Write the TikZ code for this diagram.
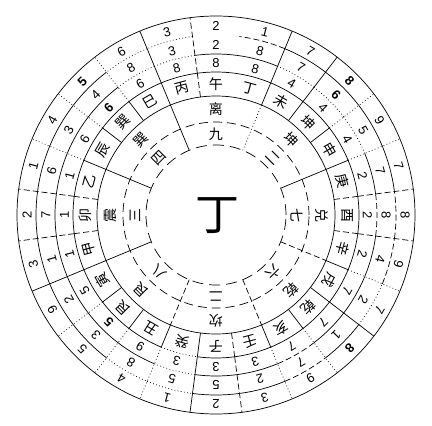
\documentclass[tikz,border=0pt]{standalone}
\usepackage{fontspec}
\setmainfont{Liberation Sans}
\newfontfamily\cjk{Noto Sans CJK SC}
\begin{document}
\begin{tikzpicture}[x=1pt,y=1pt,
  num/.style={font=\fontsize{13}{13}\selectfont, inner sep=0pt},
  mtn/.style={font=\cjk\fontsize{14}{14}\selectfont, inner sep=0pt},
  gua/.style={font=\cjk\fontsize{14}{14}\selectfont, inner sep=0pt},
  ctr/.style={font=\cjk\fontsize{44}{44}\selectfont, inner sep=0pt},
  segS/.style={solid}, segD/.style={dash pattern=on 0.8pt off 2.4pt},
  segH/.style={dash pattern=on 6pt off 3pt}, segN/.style={draw=none},
  ln/.style={line width=0.7pt}]
\useasboundingbox (-216,-211) rectangle (216,215);
\draw[ln] (0,0) circle (199);
\draw[ln] (0,0) circle (119);
\draw[ln, dash pattern=on 9pt off 5pt] (0,0) circle (93);
\draw[ln, dash pattern=on 11pt off 6pt] (0,0) circle (70);
% 24 mountains with three star rings
\foreach \i/\m/\o/\p/\q/\sa/\sb/\sc in {
 0/午/2/2/8/segN/segS/segS,
 1/丙/3/3/8/segD/segD/segS,
 2/巳/6/8/6/segD/segD/segS,
 3/巽/{\bfseries 5}/4/{\bfseries 6}/segS/segS/segS,
 4/辰/4/3/6/segS/segS/segS,
 5/乙/1/6/1/segS/segS/segS,
 6/卯/2/7/1/segS/segS/segS,
 7/甲/3/1/1/segS/segS/segS,
 8/寅/9/2/5/segS/segS/segS,
 9/艮/5/3/{\bfseries 5}/segS/segS/segS,
 10/丑/4/8/9/segD/segS/segS,
 11/癸/1/5/3/segD/segD/segD,
 12/子/2/5/3/segS/segS/segS,
 13/壬/3/2/3/segS/segS/segS,
 14/亥/9/7/7/segH/segH/segS,
 15/乾/{\bfseries 8}/1/7/segS/segS/segS,
 16/戌/7/2/7/segD/segS/segS,
 17/辛/9/4/2/segH/segS/segS,
 18/酉/8/8/2/segH/segH/segS,
 19/庚/7/7/2/segS/segS/segS,
 20/申/9/5/4/segS/segD/segS,
 21/坤/{\bfseries 8}/{\bfseries 6}/4/segS/segD/segS,
 22/未/7/7/4/segS/segD/segS,
 23/丁/1/8/8/segH/segS/segS}{
  \pgfmathsetmacro\a{90+15*\i}
  \pgfmathsetmacro\aa{\a-7.5}
  \pgfmathsetmacro\ab{\a+7.5}
  \node[mtn, rotate=\a-90] (m\i) at (\a:131) {\m};
  \node[num, rotate=\a-90] (o\i) at (\a:189) {\o};
  \node[num, rotate=\a-90] (p\i) at (\a:170) {\p};
  \node[num, rotate=\a-90] (q\i) at (\a:151.5) {\q};
  \draw[ln,\sa] (\aa:180) arc[start angle=\aa, end angle=\ab, radius=180];
  \draw[ln,\sb] (\aa:161) arc[start angle=\aa, end angle=\ab, radius=161];
  \draw[ln,\sc] (\aa:143) arc[start angle=\aa, end angle=\ab, radius=143];
}
% radial boundaries
\foreach \b/\so/\sm/\si in {
 97.5/segH/segH/segN, 112.5/segS/segS/segS, 127.5/segD/segS/segN,
 142.5/segD/segS/segN, 157.5/segD/segS/segS, 172.5/segH/segH/segN,
 187.5/segH/segH/segN, 202.5/segS/segS/segS, 217.5/segD/segS/segN,
 232.5/segD/segS/segN, 247.5/segD/segS/segH, 262.5/segS/segS/segN,
 277.5/segH/segH/segN, 292.5/segD/segS/segH, 307.5/segD/segS/segN,
 322.5/segS/segS/segN, 337.5/segD/segS/segH, 352.5/segH/segH/segN,
 7.5/segH/segH/segN, 22.5/segD/segS/segS, 37.5/segD/segS/segN,
 52.5/segS/segS/segN, 67.5/segS/segS/segD}{
  \draw[ln,\so] (\b:143) -- (\b:199);
  \draw[ln,\sm] (\b:119) -- (\b:143);
  \draw[ln,\si] (\b:70) -- (\b:119);
}
% eight palaces
\foreach \j/\g/\n in {0/离/九, 1/巽/四, 2/震/三, 3/艮/八, 4/坎/二, 5/乾/六, 6/兑/七, 7/坤/二}{
  \pgfmathsetmacro\c{90+45*\j}
  \node[gua, rotate=\c-90] (g\j) at (\c:106) {\g};
  \node[gua, rotate=\c-90] (n\j) at (\c:81) {\n};
}
\node[ctr] (center) at (2,-1) {丁};
\end{tikzpicture}
\end{document}
